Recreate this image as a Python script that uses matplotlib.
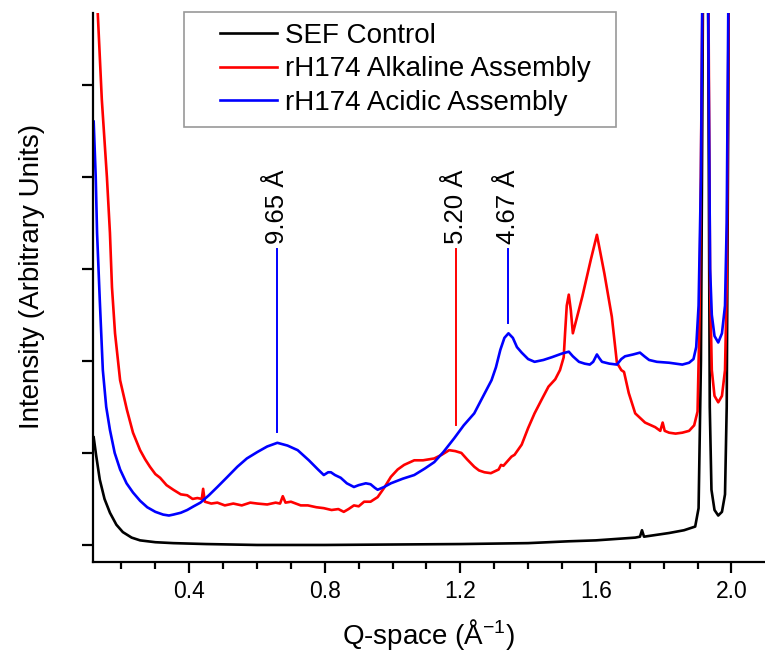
import matplotlib
matplotlib.use("Agg")
import matplotlib.pyplot as plt
from matplotlib.legend_handler import HandlerLine2D
from matplotlib.ticker import MultipleLocator, FixedLocator, NullFormatter

plt.rcParams['font.family'] = ['Liberation Sans', 'DejaVu Sans']
plt.rcParams['mathtext.default'] = 'regular'

# ---------------- data ----------------
sef_q = [0.118, 0.125, 0.136, 0.150, 0.166, 0.185, 0.204, 0.230, 0.255, 0.30, 0.353, 0.45,
         0.6, 0.8, 1.0, 1.2, 1.4, 1.52, 1.6, 1.716, 1.730, 1.736, 1.742, 1.816, 1.86, 1.893,
         1.903, 1.910, 1.916, 1.925, 1.931, 1.936, 1.941, 1.950, 1.961, 1.972, 1.981,
         1.986, 1.991, 1.996]
sef_i = [1.17, 0.98, 0.71, 0.50, 0.35, 0.22, 0.14, 0.08, 0.05, 0.03, 0.02, 0.01,
         0.0, 0.0, 0.005, 0.01, 0.02, 0.04, 0.05, 0.08, 0.09, 0.16, 0.09, 0.13, 0.16, 0.20,
         0.4, 2.0, 6.0, 10.0, 6.0, 1.5, 0.6, 0.38, 0.32, 0.36, 0.55,
         1.5, 5.0, 10.0]

alk_q = [0.125, 0.130, 0.142, 0.157, 0.166, 0.172, 0.181, 0.196, 0.216, 0.234, 0.255, 0.27,
         0.284, 0.30, 0.314, 0.333, 0.353, 0.375, 0.394, 0.41, 0.424, 0.437, 0.441, 0.446,
         0.465, 0.483, 0.505, 0.53, 0.555, 0.58, 0.601, 0.63, 0.655, 0.668, 0.676, 0.684,
         0.70, 0.729, 0.75, 0.775, 0.797, 0.82, 0.84, 0.856, 0.87, 0.886, 0.9, 0.916, 0.935,
         0.956, 0.975, 0.995, 1.015, 1.034, 1.064, 1.09, 1.123, 1.145, 1.167, 1.185, 1.203,
         1.22, 1.241, 1.255, 1.271, 1.29, 1.313, 1.320, 1.327, 1.351, 1.36, 1.381, 1.40,
         1.419, 1.44, 1.46, 1.48, 1.494, 1.505, 1.509, 1.514, 1.52, 1.526, 1.532, 1.56,
         1.585, 1.603, 1.625, 1.647, 1.662, 1.675, 1.683, 1.697, 1.716, 1.745, 1.775, 1.79,
         1.797, 1.803, 1.816, 1.835, 1.855, 1.875, 1.89, 1.90, 1.906, 1.912, 1.925, 1.932,
         1.937, 1.942, 1.950, 1.961, 1.972, 1.981, 1.986, 1.991, 1.996]
alk_i = [6.5, 5.78, 4.84, 4.0, 3.39, 2.8, 2.3, 1.79, 1.47, 1.22, 1.03, 0.93,
         0.85, 0.77, 0.73, 0.65, 0.60, 0.55, 0.54, 0.50, 0.51, 0.50, 0.61, 0.47,
         0.45, 0.46, 0.43, 0.45, 0.43, 0.46, 0.45, 0.44, 0.46, 0.45, 0.53, 0.46,
         0.47, 0.43, 0.43, 0.41, 0.40, 0.38, 0.39, 0.36, 0.39, 0.43, 0.42, 0.47, 0.47,
         0.52, 0.62, 0.74, 0.82, 0.87, 0.92, 0.92, 0.94, 0.98, 1.03, 1.02, 1.00,
         0.93, 0.85, 0.81, 0.79, 0.78, 0.82, 0.87, 0.86, 0.96, 0.98, 1.09, 1.27,
         1.43, 1.58, 1.72, 1.80, 1.90, 2.04, 2.30, 2.60, 2.72, 2.55, 2.30, 2.70,
         3.10, 3.37, 2.95, 2.48, 1.98, 1.90, 1.88, 1.65, 1.43, 1.33, 1.28, 1.24,
         1.33, 1.24, 1.22, 1.21, 1.22, 1.24, 1.30, 1.45, 2.5, 5.0, 10.0, 6.0,
         2.8, 1.9, 1.62, 1.55, 1.62, 1.9, 2.8, 5.5, 10.0]

acid_q = [0.118, 0.124, 0.128, 0.136, 0.145, 0.155, 0.166, 0.18, 0.196, 0.215, 0.234, 0.255,
          0.276, 0.30, 0.323, 0.34, 0.353, 0.375, 0.394, 0.413, 0.433, 0.458, 0.483, 0.51,
          0.542, 0.57, 0.601, 0.63, 0.66, 0.69, 0.72, 0.753, 0.78, 0.797, 0.81, 0.818, 0.83,
          0.847, 0.865, 0.886, 0.9, 0.921, 0.935, 0.948, 0.956, 0.975, 0.995, 1.03, 1.064,
          1.095, 1.123, 1.15, 1.182, 1.21, 1.241, 1.265, 1.292, 1.305, 1.318, 1.33, 1.342,
          1.355, 1.367, 1.381, 1.40, 1.419, 1.445, 1.47, 1.50, 1.52, 1.532, 1.55, 1.567,
          1.582, 1.592, 1.603, 1.61, 1.618, 1.64, 1.662, 1.675, 1.686, 1.71, 1.73, 1.743,
          1.757, 1.78, 1.816, 1.855, 1.875, 1.888, 1.896, 1.903, 1.910, 1.916, 1.925, 1.931,
          1.937, 1.942, 1.950, 1.961, 1.972, 1.981, 1.986, 1.991, 1.996]
acid_i = [4.6, 4.0, 3.39, 2.66, 1.9, 1.5, 1.25, 1.0, 0.82, 0.67, 0.57, 0.48,
          0.41, 0.36, 0.33, 0.32, 0.33, 0.35, 0.38, 0.42, 0.46, 0.54, 0.63, 0.73,
          0.85, 0.94, 1.01, 1.07, 1.11, 1.08, 1.03, 0.92, 0.82, 0.76, 0.79, 0.79, 0.76,
          0.73, 0.67, 0.63, 0.65, 0.67, 0.66, 0.62, 0.60, 0.63, 0.67, 0.72, 0.76,
          0.83, 0.90, 1.01, 1.16, 1.30, 1.43, 1.60, 1.79, 1.93, 2.12, 2.25, 2.30,
          2.25, 2.15, 2.09, 2.02, 1.99, 2.01, 2.04, 2.08, 2.10, 2.05, 1.99, 1.97,
          1.96, 1.99, 2.07, 2.03, 1.99, 1.97, 1.96, 2.02, 2.05, 2.07, 2.09, 2.05,
          2.01, 1.99, 1.98, 1.96, 1.98, 2.02, 2.15, 2.6, 4.0, 7.0, 10.0, 6.0,
          3.0, 2.5, 2.27, 2.2, 2.3, 2.6, 3.5, 6.0, 10.0]

series_labels = ["SEF Control", "rH174 Alkaline Assembly", "rH174 Acidic Assembly"]

peak_labels = ["9.65 Å", "5.20 Å", "4.67 Å"]
peak_q = [0.66, 1.188, 1.342]
peak_lo = [1.23, 1.30, 2.41]
peak_hi = [3.22, 3.22, 3.22]
peak_colors = ["#0000ff", "#ff0000", "#0000ff"]

x_major = [0.4, 0.8, 1.2, 1.6, 2.0]
y_ticks = [0, 1, 2, 3, 4, 5]

# ---------------- figure ----------------
W, H = 765, 656
fig = plt.figure(figsize=(W / 100, H / 100), dpi=100)
ax = fig.add_axes([93 / W, 1 - 562 / H, (765 - 93) / W, (562 - 13) / H])

ax.plot(sef_q, sef_i, color="black", lw=1.9, label=series_labels[0])
ax.plot(alk_q, alk_i, color="#ff0000", lw=1.9, label=series_labels[1])
ax.plot(acid_q, acid_i, color="#0000ff", lw=1.9, label=series_labels[2])

for lab, q, lo, hi, c in zip(peak_labels, peak_q, peak_lo, peak_hi, peak_colors):
    ax.plot([q, q], [lo, hi], color=c, lw=1.4)
    ax.text(q, hi + 0.05, lab, rotation=90, ha="center", va="bottom", fontsize=18.5)

ax.set_xlim(0.116, 2.099)
ax.set_ylim(-0.185, 5.78)

ax.xaxis.set_major_locator(FixedLocator(x_major))
ax.xaxis.set_minor_locator(MultipleLocator(0.1))
ax.set_xticklabels([f"{v:.1f}" for v in x_major])
ax.yaxis.set_major_locator(FixedLocator(y_ticks))
ax.yaxis.set_major_formatter(NullFormatter())

for s in ["top", "right"]:
    ax.spines[s].set_visible(False)
for s in ["left", "bottom"]:
    ax.spines[s].set_linewidth(1.6)

ax.tick_params(axis="both", which="major", direction="out", length=8, width=1.6,
               labelsize=16.5, pad=5)
ax.tick_params(axis="x", which="minor", direction="out", length=5, width=1.6)

ax.set_xlabel("Q-space (Å$^{-1}$)", fontsize=20, labelpad=10)
ax.set_ylabel("Intensity (Arbitrary Units)", fontsize=20)
ax.yaxis.set_label_coords(-0.072, 0.52)


class OffsetLine(HandlerLine2D):
    def __init__(self, offset, **kw):
        super().__init__(**kw)
        self.offset = offset

    def create_artists(self, legend, orig_handle, xdescent, ydescent, width, height,
                       fontsize, trans):
        return super().create_artists(legend, orig_handle, xdescent - self.offset,
                                      ydescent, width - self.offset, height,
                                      fontsize, trans)


handles = ax.get_lines()[:3]
hm = {h: OffsetLine(18) for h in handles}
leg = ax.legend(handles, series_labels, loc="upper left",
                bbox_to_anchor=(184 / W, 1 - 122 / H, (616 - 184) / W, (122 - 12) / H),
                bbox_transform=fig.transFigure, mode="expand",
                fontsize=20, handlelength=2.95, handletextpad=0.3, borderpad=0.4,
                labelspacing=0.26, borderaxespad=0, fancybox=False, frameon=True,
                edgecolor="#7f7f7f", handler_map=hm)
leg.get_frame().set_linewidth(1.2)

fig.savefig("out.png", dpi=100)
